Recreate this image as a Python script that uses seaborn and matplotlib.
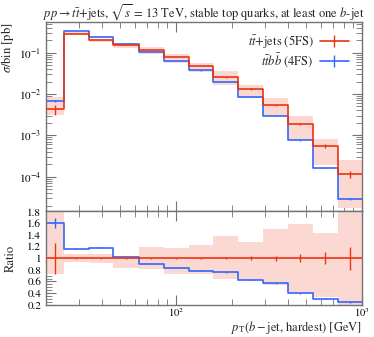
import numpy as np
import pandas as pd
import matplotlib
matplotlib.use('Agg')
import matplotlib.pyplot as plt
from matplotlib.lines import Line2D
from matplotlib import ticker
import seaborn as sns

# bin edges in pT [GeV]
edges = [20, 25, 34, 46, 63, 86, 117, 159, 216, 294, 400, 543, 739, 1000]
# ttbar+jets (5FS), sigma/bin [pb]
red_vals = [0.0043, 0.284, 0.20, 0.157, 0.114, 0.077, 0.047, 0.0254, 0.0132,
            0.0053, 0.0019, 0.00055, 0.000115]
red_err = [0.27, 0.01, 0.01, 0.01, 0.01, 0.01, 0.012, 0.02, 0.03, 0.04, 0.07,
           0.10, 0.20]  # relative
band_up = [2.0, 1.08, 1.07, 1.04, 1.19, 1.18, 1.22, 1.38, 1.28, 1.51, 1.58,
           1.44, 2.2]
band_dn = [0.73, 0.94, 0.91, 0.83, 0.81, 0.73, 0.73, 0.65, 0.62, 0.54, 0.41,
           0.34, 0.15]
# ttbb (4FS)
blue_vals = [0.0069, 0.33, 0.236, 0.16, 0.103, 0.064, 0.037, 0.0192, 0.0083,
             0.0030, 0.00076, 0.000165, 0.0000288]
blue_err = [0.05, 0.005, 0.005, 0.005, 0.005, 0.005, 0.008, 0.01, 0.01, 0.015,
            0.02, 0.03, 0.06]

RED = '#EE3311'
BLUE = '#3366FF'
BAND = '#FBD9D2'
GREY = '0.45'

sns.set_style('ticks')
plt.rcParams['font.family'] = ['STIXGeneral', 'DejaVu Serif']
plt.rcParams['mathtext.fontset'] = 'stix'
plt.rcParams['axes.edgecolor'] = GREY
plt.rcParams['xtick.color'] = GREY
plt.rcParams['ytick.color'] = GREY
plt.rcParams['xtick.labelcolor'] = 'black'
plt.rcParams['ytick.labelcolor'] = 'black'

edges_a = np.array(edges, dtype=float)
centers = np.sqrt(edges_a[:-1] * edges_a[1:])
red = np.array(red_vals)
blue = np.array(blue_vals)

def steps(vals):
    return pd.DataFrame({'x': edges_a, 'y': np.append(vals, vals[-1])})

fig = plt.figure(figsize=(3.74, 3.37), dpi=100)
W, H = 374, 337
ax = fig.add_axes([46 / W, 1 - 210.7 / H, 316 / W, (210.7 - 22) / H])
rax = fig.add_axes([46 / W, 1 - 305 / H, 316 / W, (305 - 210.7) / H], sharex=ax)

# main panel
ax.set_xscale('log')
ax.set_yscale('log')
ax.fill_between(edges_a, np.append(red * band_dn, red[-1] * band_dn[-1]),
                np.append(red * band_up, red[-1] * band_up[-1]),
                step='post', color=BAND, lw=0, zorder=1)
sns.lineplot(data=steps(red), x='x', y='y', drawstyle='steps-post', sort=False,
             estimator=None, color=RED, lw=1.2, ax=ax, zorder=3)
sns.lineplot(data=steps(blue), x='x', y='y', drawstyle='steps-post', sort=False,
             estimator=None, color=BLUE, lw=1.2, ax=ax, zorder=2)
ax.errorbar(centers, red, yerr=red * np.array(red_err), fmt='none', ecolor=RED,
            elinewidth=1.0, zorder=3)
ax.errorbar(centers, blue, yerr=blue * np.array(blue_err), fmt='none',
            ecolor=BLUE, elinewidth=1.0, zorder=2)
ax.set_xlim(20, 1000)
ax.set_ylim(1.5e-5, 0.55)
ax.set_xlabel('')
ax.set_ylabel('')
ax.tick_params(labelbottom=False)

handles = [Line2D([], [], color=RED, lw=1.2, marker='|', markersize=9, mew=1.0),
           Line2D([], [], color=BLUE, lw=1.2, marker='|', markersize=9, mew=1.0)]
ax.legend(handles, [r'$t\bar{t}$+jets (5FS)', r'$t\bar{t}b\bar{b}$ (4FS)'],
          loc='upper right', frameon=False, markerfirst=False, numpoints=1,
          fontsize=9, handlelength=2.3, handletextpad=0.5, labelspacing=0.05,
          borderpad=0.2, bbox_to_anchor=(0.985, 0.985))

# ratio panel
ratio = blue / red
rax.fill_between(edges_a, np.append(band_dn, band_dn[-1]),
                 np.append(band_up, band_up[-1]), step='post', color=BAND,
                 lw=0, zorder=1)
sns.lineplot(data=steps(np.ones_like(red)), x='x', y='y', drawstyle='steps-post',
             sort=False, estimator=None, color=RED, lw=1.2, ax=rax, zorder=3)
sns.lineplot(data=steps(ratio), x='x', y='y', drawstyle='steps-post', sort=False,
             estimator=None, color=BLUE, lw=1.2, ax=rax, zorder=2)
rax.errorbar(centers, np.ones_like(red), yerr=red_err, fmt='none', ecolor=RED,
             elinewidth=1.0, zorder=3)
rax.errorbar(centers, ratio, yerr=ratio * np.array(blue_err), fmt='none',
             ecolor=BLUE, elinewidth=1.0, zorder=2)
rax.set_ylim(0.195, 1.817)
rax.set_ylabel('')
rax.set_xlabel('')
rax.yaxis.set_major_locator(ticker.MultipleLocator(0.2))
rax.yaxis.set_minor_locator(ticker.MultipleLocator(0.05))
rax.yaxis.set_major_formatter(ticker.FuncFormatter(lambda v, _: f'{v:g}'))

for a in (ax, rax):
    a.tick_params(which='both', direction='in', top=True, right=True,
                  labelsize=8)
    a.tick_params(which='major', length=7, width=0.8)
    a.tick_params(which='minor', length=4, width=0.6)
    for s in a.spines.values():
        s.set_linewidth(1.0)
rax.tick_params(axis='x', which='major', pad=1, labelsize=7.5)
ax.xaxis.set_major_locator(ticker.LogLocator(base=10))
ax.xaxis.set_minor_locator(ticker.LogLocator(base=10, subs=np.arange(2, 10)))
ax.xaxis.set_minor_formatter(ticker.NullFormatter())
ax.yaxis.set_minor_locator(ticker.LogLocator(base=10, subs=np.arange(2, 10),
                                             numticks=20))
ax.yaxis.set_minor_formatter(ticker.NullFormatter())

# axis labels placed like the reference
fig.text(7.5 / W, 1 - 22 / H, r'$\sigma$/bin [pb]', rotation=90, ha='center',
         va='top', fontsize=9)
fig.text(11 / W, 1 - 258 / H, 'Ratio', rotation=90, ha='center', va='center',
         fontsize=9)
fig.text(362 / W, 1 - 336.5 / H, r'$p_\mathrm{T}$($b-$jet, hardest) [GeV]',
         ha='right', va='bottom', fontsize=9)

fig.text(204 / W, 1 - 12.5 / H,
         r'$pp \rightarrow t\bar{t}$+jets, $\sqrt{s}$ = 13 TeV, stable top quarks, at least one $b$-jet',
         ha='center', va='center', fontsize=9)

fig.savefig('out.png', dpi=100)
